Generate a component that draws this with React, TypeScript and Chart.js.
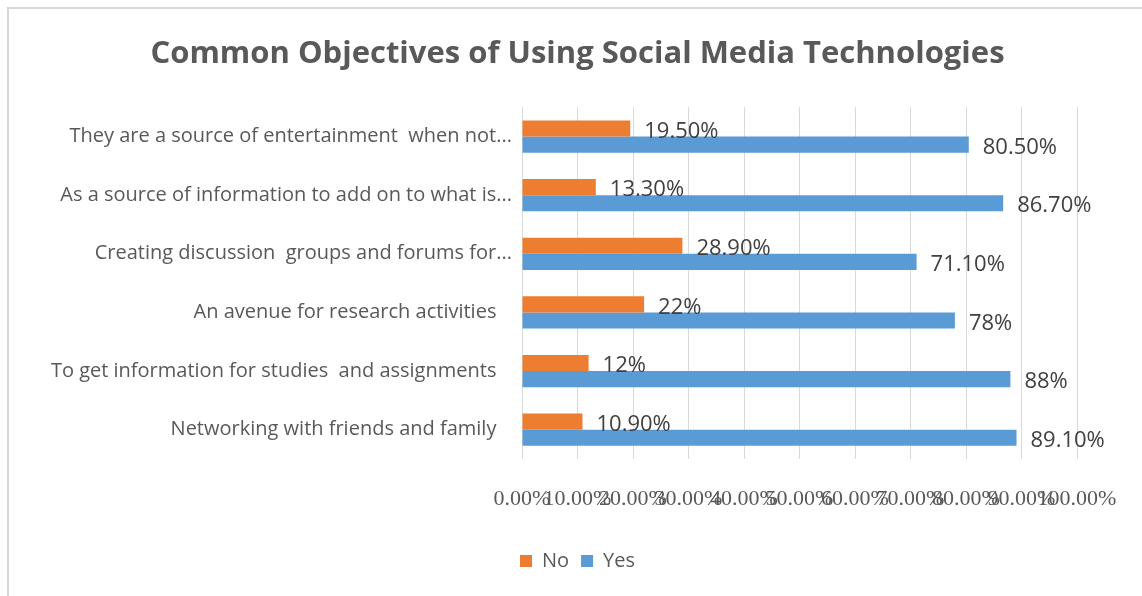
import React, { useEffect, useRef } from "react";
import { Chart, registerables } from "chart.js";

Chart.register(...registerables);

const chartTitle = "Common Objectives of Using Social Media Technologies";
const categories = [
  "They are a source of entertainment  when not...",
  "As a source of information to add on to what is...",
  "Creating discussion  groups and forums for...",
  "An avenue for research activities   ",
  "To get information for studies  and assignments   ",
  "Networking with friends and family   ",
];
const seriesNames = ["No", "Yes"];
const noValues = [19.5, 13.3, 28.9, 22, 12, 10.9];
const yesValues = [80.5, 86.7, 71.1, 78, 88, 89.1];
const noLabels = ["19.50%", "13.30%", "28.90%", "22%", "12%", "10.90%"];
const yesLabels = ["80.50%", "86.70%", "71.10%", "78%", "88%", "89.10%"];
const xTickValues = [0, 10, 20, 30, 40, 50, 60, 70, 80, 90, 100];

const ORANGE = "#ED7D31";
const BLUE = "#5B9BD5";

const valueLabelPlugin = {
  id: "valueLabels",
  afterDatasetsDraw(chart: any) {
    const ctx = chart.ctx;
    const sets = [noLabels, yesLabels];
    chart.data.datasets.forEach((_ds: any, i: number) => {
      const meta = chart.getDatasetMeta(i);
      meta.data.forEach((bar: any, j: number) => {
        ctx.save();
        ctx.font = "22px 'Open Sans'";
        ctx.fillStyle = "#404040";
        ctx.textAlign = "left";
        ctx.textBaseline = "middle";
        ctx.fillText(sets[i][j], bar.x + 14, bar.y + 3);
        ctx.restore();
      });
    });
  },
};

export default function App() {
  const canvasRef = useRef<HTMLCanvasElement | null>(null);

  useEffect(() => {
    if (!canvasRef.current) return;
    const chart = new Chart(canvasRef.current, {
      type: "bar",
      data: {
        labels: categories,
        datasets: [
          {
            label: seriesNames[0],
            data: noValues,
            backgroundColor: ORANGE,
            borderWidth: 0,
            categoryPercentage: 0.55,
            barPercentage: 1.0,
          },
          {
            label: seriesNames[1],
            data: yesValues,
            backgroundColor: BLUE,
            borderWidth: 0,
            categoryPercentage: 0.55,
            barPercentage: 1.0,
          },
        ],
      },
      options: {
        indexAxis: "y",
        animation: false,
        responsive: true,
        maintainAspectRatio: false,
        layout: { padding: { left: 78, right: 65, top: 0, bottom: 15 } },
        plugins: {
          title: {
            display: true,
            text: chartTitle,
            color: "#595959",
            font: { family: "'Open Sans'", size: 31, weight: "bold" },
            padding: { top: 36, bottom: 34 },
          },
          legend: {
            position: "bottom",
            labels: {
              boxWidth: 12,
              boxHeight: 12,
              color: "#595959",
              font: { family: "'Open Sans'", size: 20 },
              padding: 12,
            },
          },
          tooltip: { enabled: false },
        },
        scales: {
          x: {
            min: 0,
            max: 100,
            afterBuildTicks(scale: any) {
              scale.ticks = xTickValues.map((v) => ({ value: v }));
            },
            afterFit(scale: any) {
              scale.paddingLeft = 0;
              scale.paddingRight = 0;
              scale.height = 80;
            },
            grid: { color: "#d9d9d9", lineWidth: 1, drawTicks: false },
            border: { display: false },
            ticks: {
              autoSkip: false,
              maxRotation: 0,
              minRotation: 0,
              padding: 27,
              color: "#595959",
              font: { family: "'Liberation Serif'", size: 22 },
              callback: (v: any) => Number(v).toFixed(2) + "%",
            },
          },
          y: {
            afterFit(scale: any) {
              scale.width = 444;
              scale.paddingTop = 0;
              scale.paddingBottom = 0;
              scale._computeLabelArea = () => undefined;
            },
            grid: { display: false, drawTicks: false },
            border: { display: false },
            ticks: {
              padding: 10,
              color: "#595959",
              font: { family: "'Open Sans'", size: 20 },
            },
          },
        },
      },
      plugins: [valueLabelPlugin],
    });
    return () => chart.destroy();
  }, []);

  return (
    <div
      style={{
        position: "fixed",
        left: 0,
        top: 0,
        width: 1142,
        height: 596,
        background: "#fff",
      }}
    >
      <div
        style={{
          position: "absolute",
          left: 7,
          top: 7,
          right: 0,
          bottom: 0,
          borderLeft: "2px solid #d9d9d9",
          borderTop: "2px solid #d9d9d9",
        }}
      />
      <div style={{ position: "absolute", left: 0, top: 0, width: 1142, height: 596 }}>
        <canvas ref={canvasRef} />
      </div>
    </div>
  );
}
